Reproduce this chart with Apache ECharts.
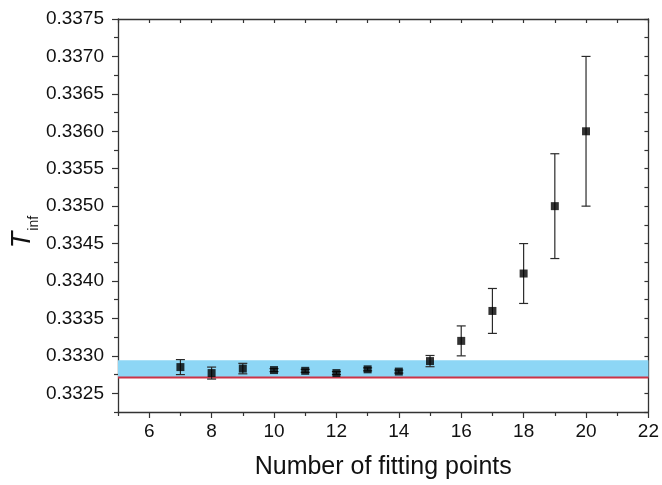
<!DOCTYPE html>
<html>
<head>
<meta charset="utf-8">
<script src="https://cdn.jsdelivr.net/npm/echarts@6/dist/echarts.min.js"></script>
<style>html,body{margin:0;padding:0;background:#fff}#c{width:662px;height:485px}</style>
</head>
<body>
<div id="c"></div>
<script>
// Data
const fitPoints = [7, 8, 9, 10, 11, 12, 13, 14, 15, 16, 17, 18, 19, 20];
const tInf =      [0.33285, 0.33277, 0.33283, 0.33281, 0.33280, 0.33277, 0.33282, 0.33279, 0.33293, 0.3332, 0.3336, 0.3341, 0.3350, 0.3360];
const tInfErr =   [0.00010, 0.00008, 0.00007, 0.00002, 0.00002, 0.00002, 0.00002, 0.00002, 0.000075, 0.0002, 0.0003, 0.0004, 0.0007, 0.0010];
const bandRange = [0.33271, 0.33294];
const refLine = [0.33271];
const xLabelValues = [6, 8, 10, 12, 14, 16, 18, 20, 22];
const xMinorValues = [5, 7, 9, 11, 13, 15, 17, 19, 21];
const xAllValues = [5, 6, 7, 8, 9, 10, 11, 12, 13, 14, 15, 16, 17, 18, 19, 20, 21, 22];
const yLabelValues = [0.3325, 0.3330, 0.3335, 0.3340, 0.3345, 0.3350, 0.3355, 0.3360, 0.3365, 0.3370, 0.3375];
const yMinorValues = [0.33225, 0.33275, 0.33325, 0.33375, 0.33425, 0.33475, 0.33525, 0.33575, 0.33625, 0.33675, 0.33725];
const yAllValues = yLabelValues.concat(yMinorValues);
const xRange = [5, 22];
const yRange = [0.33225, 0.3375];

const chart = echarts.init(document.getElementById('c'), null, {renderer: 'canvas'});
const font = '"Liberation Sans", Arial, Helvetica, sans-serif';
const axisColor = '#333';
const textColor = '#111';

const pts = fitPoints.map((x, i) => [x, tInf[i]]);
const errData = fitPoints.map((x, i) => [x, tInf[i] - tInfErr[i], tInf[i] + tInfErr[i]]);

const option = {
  animation: false,
  backgroundColor: '#fff',
  grid: {left: 118, right: 10, top: 19, bottom: 72, containLabel: false},
  graphic: [{
    type: 'text',
    x: 21, y: 232,
    rotation: Math.PI / 2,
    style: {
      text: '{t|T}{s|inf}',
      align: 'center', verticalAlign: 'middle',
      rich: {
        t: {fontSize: 27, fontStyle: 'italic', fontFamily: font, fill: textColor, lineHeight: 30, verticalAlign: 'bottom'},
        s: {fontSize: 14, fontFamily: font, fill: textColor, lineHeight: 30, verticalAlign: 'bottom', padding: [0, 0, -5, 1]}
      }
    }
  }],
  xAxis: [
    {
      type: 'value', min: xRange[0], max: xRange[1], position: 'bottom',
      axisLine: {show: true, onZero: false, lineStyle: {color: axisColor, width: 1.3}},
      axisTick: {show: true, inside: false, length: 6, customValues: xLabelValues, lineStyle: {color: axisColor, width: 1.2}},
      axisLabel: {show: true, customValues: xLabelValues, margin: 10, fontSize: 19, fontFamily: font, color: textColor},
      splitLine: {show: false},
      name: 'Number of fitting points', nameLocation: 'middle', nameGap: 43,
      nameTextStyle: {fontSize: 25, fontFamily: font, color: textColor}
    },
    {
      type: 'value', min: xRange[0], max: xRange[1], position: 'bottom', gridIndex: 0,
      axisLine: {show: false},
      axisTick: {show: true, inside: false, length: 4, customValues: xMinorValues, lineStyle: {color: axisColor, width: 1.2}},
      axisLabel: {show: false}, splitLine: {show: false}
    },
    {
      type: 'value', min: xRange[0], max: xRange[1], position: 'top',
      axisLine: {show: true, onZero: false, lineStyle: {color: axisColor, width: 1.3}},
      axisTick: {show: true, inside: true, length: 4, customValues: xAllValues, lineStyle: {color: axisColor, width: 1.2}},
      axisLabel: {show: false}, splitLine: {show: false}
    }
  ],
  yAxis: [
    {
      type: 'value', min: yRange[0], max: yRange[1], position: 'left',
      axisLine: {show: true, onZero: false, lineStyle: {color: axisColor, width: 1.3}},
      axisTick: {show: true, inside: false, length: 6, customValues: yLabelValues, lineStyle: {color: axisColor, width: 1.2}},
      axisLabel: {show: true, customValues: yLabelValues, margin: 14, fontSize: 19, fontFamily: font, color: textColor,
        formatter: v => v.toFixed(4)},
      splitLine: {show: false}
    },
    {
      type: 'value', min: yRange[0], max: yRange[1], position: 'left',
      axisLine: {show: false},
      axisTick: {show: true, inside: false, length: 4, customValues: yMinorValues, lineStyle: {color: axisColor, width: 1.2}},
      axisLabel: {show: false}, splitLine: {show: false}
    },
    {
      type: 'value', min: yRange[0], max: yRange[1], position: 'right',
      axisLine: {show: true, onZero: false, lineStyle: {color: axisColor, width: 1.3}},
      axisTick: {show: true, inside: true, length: 4, customValues: yAllValues, lineStyle: {color: axisColor, width: 1.2}},
      axisLabel: {show: false}, splitLine: {show: false}
    }
  ],
  series: [
    {
      type: 'custom', xAxisIndex: 0, yAxisIndex: 0, z: 1, silent: true,
      data: [[xRange[0], xRange[1], bandRange[0], bandRange[1], refLine[0]]],
      renderItem: function (params, api) {
        const p0 = api.coord([api.value(0), api.value(3)]);
        const p1 = api.coord([api.value(1), api.value(2)]);
        const l0 = api.coord([api.value(0), api.value(4)]);
        const l1 = api.coord([api.value(1), api.value(4)]);
        return {
          type: 'group',
          children: [
            {type: 'rect', shape: {x: p0[0], y: p0[1], width: p1[0] - p0[0], height: p1[1] - p0[1]},
              style: {fill: '#8dd6f5'}},
            {type: 'line', shape: {x1: l0[0], y1: l0[1], x2: l1[0], y2: l1[1]},
              style: {stroke: '#cc3347', lineWidth: 2}}
          ]
        };
      }
    },
    {
      type: 'custom', xAxisIndex: 0, yAxisIndex: 0, z: 3,
      data: errData,
      renderItem: function (params, api) {
        const x = api.value(0);
        const lo = api.coord([x, api.value(1)]);
        const hi = api.coord([x, api.value(2)]);
        const cw = 4.5;
        const style = {stroke: '#2a2a2a', lineWidth: 1.2};
        return {
          type: 'group',
          children: [
            {type: 'line', shape: {x1: lo[0], y1: lo[1], x2: hi[0], y2: hi[1]}, style: style},
            {type: 'line', shape: {x1: lo[0] - cw, y1: lo[1], x2: lo[0] + cw, y2: lo[1]}, style: style},
            {type: 'line', shape: {x1: hi[0] - cw, y1: hi[1], x2: hi[0] + cw, y2: hi[1]}, style: style}
          ]
        };
      }
    },
    {
      type: 'scatter', xAxisIndex: 0, yAxisIndex: 0, z: 4,
      symbol: 'rect', symbolSize: 8,
      itemStyle: {color: '#000'},
      data: pts
    }
  ]
};
chart.setOption(option);
</script>
</body>
</html>
